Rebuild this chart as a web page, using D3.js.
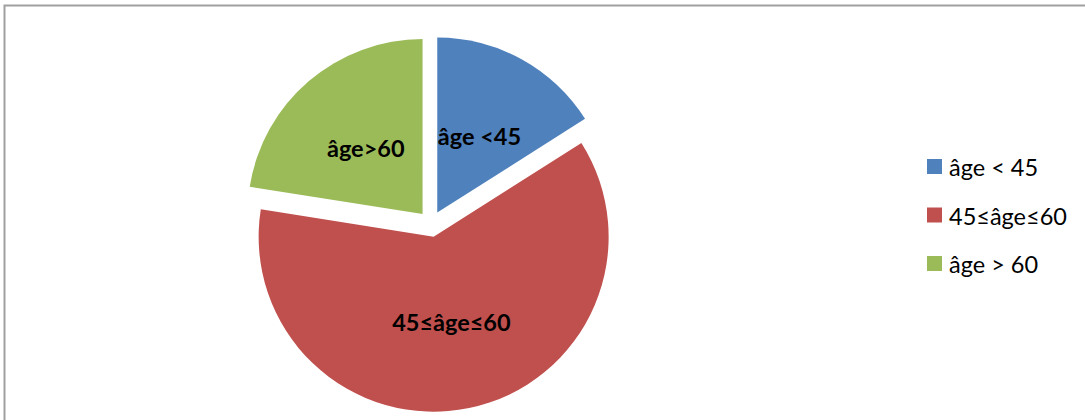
<!DOCTYPE html>
<html><head><meta charset="utf-8">
<script src="https://cdn.jsdelivr.net/npm/d3@7"></script>
<style>html,body{margin:0;padding:0;background:#fff;}svg{display:block;}</style>
</head><body>
<svg id="chart" width="1085" height="420"></svg>
<script>
const categories = ["âge < 45", "45≤âge≤60", "âge > 60"];
const sliceLabels = ["âge <45", "45≤âge≤60", "âge>60"];
const values = [16, 61.5, 22.5];
const colors = ["#4F81BD", "#C0504D", "#9BBB59"];

const svg = d3.select("#chart");
const W = 1085, H = 420;
// frame
svg.append("rect").attr("x", 4.5).attr("y", 5.5).attr("width", W + 10).attr("height", H + 10)
  .attr("fill", "none").attr("stroke", "#a0a0a0").attr("stroke-width", 2);

const cx = 431, cy = 224, r = 175, explode = 13;
const pie = d3.pie().sort(null).value(d => d)(values);
const arc = d3.arc().innerRadius(0).outerRadius(r);
const g = svg.append("g").attr("transform", `translate(${cx},${cy})`);

const slices = g.selectAll("g.slice").data(pie).enter().append("g")
  .attr("transform", d => {
    const a = (d.startAngle + d.endAngle) / 2;
    return `translate(${Math.sin(a) * explode},${-Math.cos(a) * explode})`;
  });
slices.append("path").attr("d", arc).attr("fill", (d, i) => colors[i]);
slices.append("text")
  .attr("x", d => Math.sin((d.startAngle + d.endAngle) / 2) * r * 0.5)
  .attr("y", d => -Math.cos((d.startAngle + d.endAngle) / 2) * r * 0.5)
  .attr("text-anchor", "middle").attr("dominant-baseline", "central")
  .attr("font-family", "Lato, 'Open Sans', sans-serif").attr("font-weight", "bold")
  .attr("font-size", 23.5).attr("fill", "#000")
  .text((d, i) => sliceLabels[i]);

// legend
const legend = svg.append("g").attr("transform", "translate(927,159)");
const items = legend.selectAll("g").data(categories).enter().append("g")
  .attr("transform", (d, i) => `translate(0,${i * 48.5})`);
items.append("rect").attr("width", 15).attr("height", 15).attr("fill", (d, i) => colors[i]);
items.append("text").attr("x", 22).attr("y", 8).attr("dominant-baseline", "central")
  .attr("font-family", "Lato, 'Open Sans', sans-serif").attr("font-size", 23.5).attr("fill", "#000")
  .text(d => d);
</script>
</body></html>
